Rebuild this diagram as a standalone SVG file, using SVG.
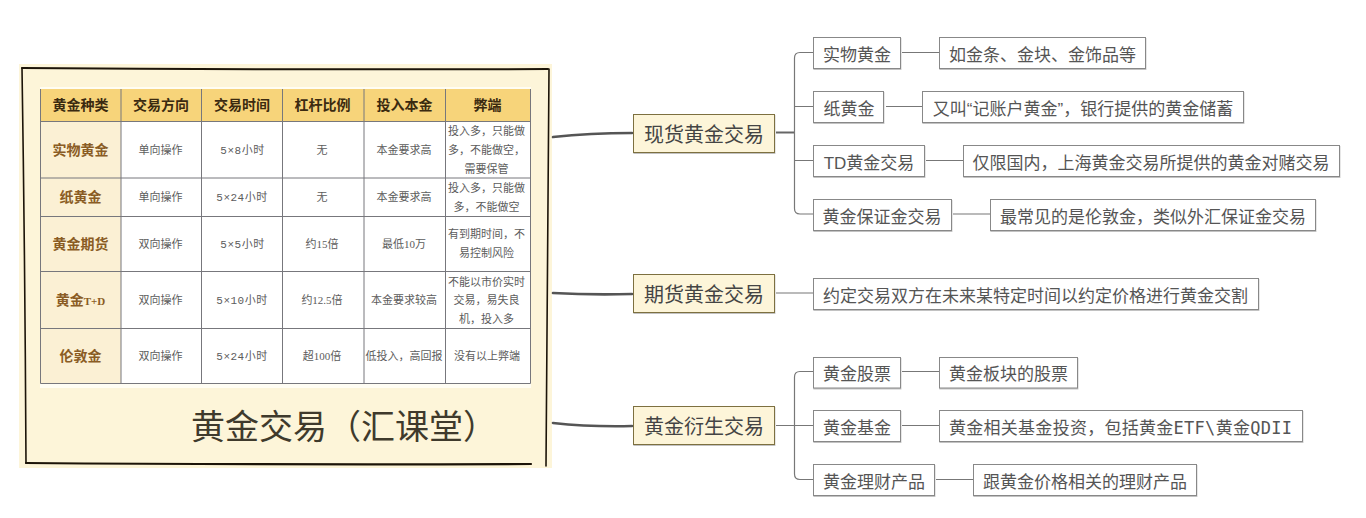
<svg xmlns="http://www.w3.org/2000/svg" width="1366" height="518" viewBox="0 0 1366 518">
<style>
text{font-family:"Liberation Sans","Noto Sans CJK SC",sans-serif}
.m{text-anchor:middle}
.h{font-size:14px;font-weight:700;fill:#3b2a10;text-anchor:middle}
.f{font-size:14px;font-weight:700;fill:#8a5c24;text-anchor:middle}
.c{font-size:11px;fill:#5c5c5c;text-anchor:middle}
.cm{font-family:"Liberation Mono","Noto Sans CJK SC",monospace}
.cs{font-family:"Liberation Serif","Noto Sans CJK SC",serif}
.grid{stroke:#77777c;stroke-width:1;fill:none}
.t{font-size:20px;fill:#444;text-anchor:middle}
.n{font-size:17px;fill:#555;text-anchor:middle}
.tb{fill:#fdf5d9;stroke:#7d7040;stroke-width:1;filter:url(#sh)}
.nb{fill:#fff;stroke:#888;stroke-width:1;filter:url(#sh)}
.l{fill:none;stroke:#777;stroke-width:1.2}
.l2{fill:none;stroke:#666;stroke-width:2}
.k{fill:none;stroke:#555;stroke-width:2.6;stroke-linecap:round}
.b{fill:none;stroke:#1c1408;stroke-linecap:round}
</style>
<defs>
<filter id="sh" x="-5%" y="-10%" width="110%" height="125%"><feDropShadow dx="0.4" dy="1" stdDeviation="0.6" flood-color="#666" flood-opacity="0.4"/></filter>
</defs>
<rect width="1366" height="518" fill="#fff"/>
<g id="panel">
<rect x="19" y="64" width="533" height="404" fill="#fdf5d9"/>
<path class="b" stroke-width="2" d="M22 68Q290 70 548 69"/>
<path class="b" stroke-width="1.6" d="M22 68Q25 260 26 463"/>
<path class="b" stroke-width="1.6" d="M549 69Q547 270 546 466"/>
<path class="b" stroke-width="2.2" d="M26 463Q290 465 531 464"/>
<rect x="40" y="87" width="491" height="301" fill="#fffdf3"/>
<text x="336" y="439" class="m" font-size="34" fill="#3f3a2c" transform="translate(8 0)">黄金交易（汇课堂）</text>
</g>
<g id="table">
<rect x="40.500" y="89" width="490" height="32.500" fill="#f7d47a"/>
<rect x="40.500" y="121.500" width="80.500" height="262" fill="#fbf0d4"/>
<rect x="121" y="121.500" width="409.500" height="262" fill="#fff"/>
<path class="grid" d="M40.500 89V383.500M121 89V383.500M201.500 89V383.500M282.500 89V383.500M364 89V383.500M445.500 89V383.500M530.500 89V383.500M40.500 121.500H530.500M40.500 178H530.500M40.500 216.500H530.500M40.500 271.500H530.500M40.500 328.500H530.500M40.500 383.500H530.500"/>
<g>
<text x="80.500" y="110" class="h">黄金种类</text><text x="161" y="110" class="h">交易方向</text><text x="242" y="110" class="h">交易时间</text><text x="322.500" y="110" class="h">杠杆比例</text><text x="404.500" y="110" class="h">投入本金</text><text x="487.500" y="110" class="h">弊端</text>
<text x="80.500" y="155" class="f">实物黄金</text><text x="80.500" y="202" class="f">纸黄金</text><text x="80.500" y="249" class="f">黄金期货</text><text x="80.500" y="305" class="f">黄金<tspan class="cs" font-size="11">T+D</tspan></text><text x="80.500" y="361" class="f">伦敦金</text>
</g>
<g>
<text x="160.500" y="154" class="c">单向操作</text><text x="242.500" y="154" class="c cm" letter-spacing="0.5">5×8小时</text><text x="322" y="154" class="c">无</text><text x="404" y="154" class="c">本金要求高</text>
<text x="486.500" y="135" class="c">投入多，只能做</text><text x="486.500" y="154" class="c">多，不能做空，</text><text x="486.500" y="173" class="c">需要保管</text>
<text x="160.500" y="201" class="c">单向操作</text><text x="242" y="201" class="c cm" letter-spacing="0.5">5×24小时</text><text x="322" y="201" class="c">无</text><text x="404" y="201" class="c">本金要求高</text>
<text x="486.500" y="192" class="c">投入多，只能做</text><text x="486.500" y="211" class="c">多，不能做空</text>
<text x="160.500" y="248" class="c">双向操作</text><text x="242.500" y="248" class="c cm" letter-spacing="0.5">5×5小时</text><text x="322" y="248" class="c cs">约15倍</text><text x="404" y="248" class="c cs">最低10万</text>
<text x="486.500" y="238" class="c">有到期时间，不</text><text x="486.500" y="257" class="c">易控制风险</text>
<text x="160.500" y="304" class="c">双向操作</text><text x="242" y="304" class="c cm" letter-spacing="0.5">5×10小时</text><text x="322" y="304" class="c cs">约12.5倍</text><text x="404" y="304" class="c">本金要求较高</text>
<text x="486.500" y="286" class="c">不能以市价实时</text><text x="486.500" y="304" class="c">交易，易失良</text><text x="486.500" y="323" class="c">机，投入多</text>
<text x="160.500" y="360" class="c">双向操作</text><text x="242" y="360" class="c cm" letter-spacing="0.5">5×24小时</text><text x="322" y="360" class="c cs">超100倍</text><text x="404" y="360" class="c">低投入，高回报</text><text x="487" y="360" class="c">没有以上弊端</text>
</g>
</g>
<g id="connectors">
<path class="k" d="M553 137Q590 133 632 133"/>
<path class="k" d="M553 293Q590 295 632 294"/>
<path class="k" d="M553 423Q590 427 632 426"/>
<path class="l2" d="M776 132.500H794"/>
<path class="l" d="M813 52.500H800Q794.500 52.500 794.500 58V208.500Q794.500 214 800 214H813M794.500 106.500H813M794.500 160.500H813"/>
<path class="l" d="M776 293H813"/>
<path class="l" d="M776 425.500H813M813 371.500H800Q794.500 371.500 794.500 377V474Q794.500 479.500 800 479.500H813"/>
<path class="l" d="M902 52.500H939M886 106.500H922M926 160.500H963M953 214H990M902 371.500H939M902 425.500H939M936 479.500H973"/>
</g>
<g id="t1"><rect class="tb" x="633.500" y="114.500" width="141" height="38"/><text class="t" x="704" y="142">现货黄金交易</text></g>
<g id="t2"><rect class="tb" x="633.500" y="274.500" width="141" height="38"/><text class="t" x="704" y="302">期货黄金交易</text></g>
<g id="t3"><rect class="tb" x="633.500" y="406.500" width="141" height="38"/><text class="t" x="704" y="434">黄金衍生交易</text></g>
<g id="n1"><rect class="nb" x="813.500" y="37.500" width="87" height="31"/><text class="n" x="857" y="61">实物黄金</text></g>
<g id="n1d"><rect class="nb" x="939.500" y="37.500" width="206" height="31"/><text class="n" x="1042.500" y="61">如金条、金块、金饰品等</text></g>
<g id="n2"><rect class="nb" x="813.500" y="91.500" width="70" height="31"/><text class="n" x="849" y="115">纸黄金</text></g>
<g id="n2d"><rect class="nb" x="922.500" y="91.500" width="321" height="31"/><text class="n" x="1083" y="115">又叫“记账户黄金”，银行提供的黄金储蓄</text></g>
<g id="n3"><rect class="nb" x="813.500" y="145.500" width="111" height="31"/><text class="n" x="869" y="169">TD黄金交易</text></g>
<g id="n3d"><rect class="nb" x="963.500" y="145.500" width="376" height="31"/><text class="n" x="1151" y="169">仅限国内，上海黄金交易所提供的黄金对赌交易</text></g>
<g id="n4"><rect class="nb" x="813.500" y="199.500" width="138" height="31"/><text class="n" x="882" y="223">黄金保证金交易</text></g>
<g id="n4d"><rect class="nb" x="990.500" y="199.500" width="325" height="31"/><text class="n" x="1153" y="223">最常见的是伦敦金，类似外汇保证金交易</text></g>
<g id="n5"><rect class="nb" x="813.500" y="278.500" width="445" height="31"/><text class="n" x="1035.500" y="302">约定交易双方在未来某特定时间以约定价格进行黄金交割</text></g>
<g id="n6"><rect class="nb" x="813.500" y="357.500" width="87" height="30.500"/><text class="n" x="857" y="380">黄金股票</text></g>
<g id="n6d"><rect class="nb" x="939.500" y="357.500" width="138" height="30.500"/><text class="n" x="1008.500" y="380">黄金板块的股票</text></g>
<g id="n7"><rect class="nb" x="813.500" y="410.500" width="87" height="31"/><text class="n" x="857" y="434">黄金基金</text></g>
<g id="n7d"><rect class="nb" x="939.500" y="410.500" width="363" height="31"/><text class="n" x="1120.500" y="434" textLength="343">黄金相关基金投资，包括黄金<tspan font-family="'DejaVu Sans Mono','Noto Sans CJK SC',monospace">ETF\</tspan>黄金<tspan font-family="'DejaVu Sans Mono',monospace">QDII</tspan></text></g>
<g id="n8"><rect class="nb" x="813.500" y="464.500" width="121" height="31"/><text class="n" x="874" y="488">黄金理财产品</text></g>
<g id="n8d"><rect class="nb" x="973.500" y="464.500" width="223" height="31"/><text class="n" x="1085" y="488">跟黄金价格相关的理财产品</text></g>
</svg>
